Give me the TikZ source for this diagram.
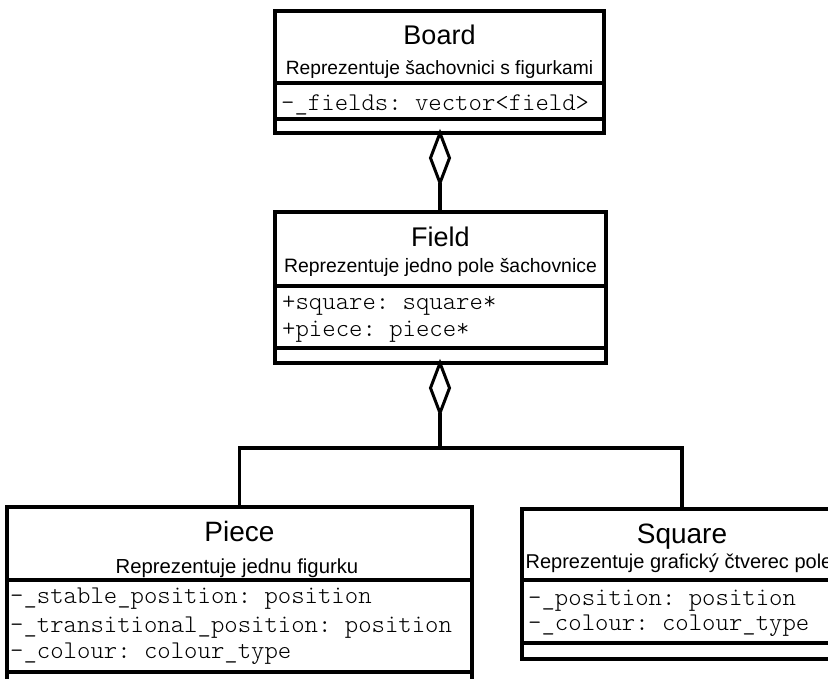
\documentclass[tikz,border=0pt]{standalone}
\usepackage{fontspec}
\setmainfont{Liberation Sans}
\setmonofont[Extension=.otf]{lmmonolt10-regular}
\usetikzlibrary{shapes.geometric}

\tikzset{
  classbox/.style={draw, rectangle, line width=3.5pt, inner sep=0pt, outer sep=0pt},
  sepline/.style={line width=3.5pt},
  link/.style={line width=3.5pt},
  agg/.style={draw, diamond, line width=3pt, fill=white, inner sep=0pt, outer sep=0pt,
              minimum width=19pt, minimum height=50pt},
  title/.style={anchor=base, inner sep=0pt},
  descr/.style={anchor=base, inner sep=0pt},
  attr/.style={anchor=base west, inner sep=0pt, font=\ttfamily\fontsize{25.5}{30}\selectfont},
}

\begin{document}
\begin{tikzpicture}[x=1pt, y=-1pt]
  \useasboundingbox (0,0) rectangle (828,679);
  \clip (0,0) rectangle (828,679);

  % class frames
  \node[classbox, minimum width=329pt, minimum height=122pt] (board) at (439.5,72) {};
  \node[classbox, minimum width=331pt, minimum height=151pt] (field) at (440.5,287.5) {};
  \node[classbox, minimum width=465pt, minimum height=183pt] (piece) at (239.5,598.5) {};
  \node[classbox, minimum width=320pt, minimum height=150pt] (square) at (682,584) {};

  % compartments
  \draw[sepline] ([yshift=-72pt]board.north west) -- ([yshift=-72pt]board.north east);
  \draw[sepline] ([yshift=-108pt]board.north west) -- ([yshift=-108pt]board.north east);
  \draw[sepline] ([yshift=-74pt]field.north west) -- ([yshift=-74pt]field.north east);
  \draw[sepline] ([yshift=-136pt]field.north west) -- ([yshift=-136pt]field.north east);
  \draw[sepline] ([yshift=-73pt]piece.north west) -- ([yshift=-73pt]piece.north east);
  \draw[sepline] ([yshift=-165pt]piece.north west) -- ([yshift=-165pt]piece.north east);
  \draw[sepline] ([yshift=-71pt]square.north west) -- ([yshift=-71pt]square.north east);
  \draw[sepline] ([yshift=-134pt]square.north west) -- ([yshift=-134pt]square.north east);

  % Board
  \node[title, font=\fontsize{27}{32}\selectfont] (boardT) at (439.5,45) {Board};
  \node[descr, font=\fontsize{19.2}{23}\selectfont] (boardD) at (439.5,75) {Reprezentuje šachovnici s figurkami};
  \node[attr] (boardA1) at (281,111) {-\_fields: vector<field>};

  % Field
  \node[title, font=\fontsize{27}{32}\selectfont] (fieldT) at (440.5,247) {Field};
  \node[descr, font=\fontsize{19.4}{23}\selectfont] (fieldD) at (440.5,273) {Reprezentuje jedno pole šachovnice};
  \node[attr] (fieldA1) at (282,310) {+square: square*};
  \node[attr] (fieldA2) at (282,337) {+piece: piece*};

  % Piece
  \node[title, font=\fontsize{28}{33}\selectfont] (pieceT) at (239.5,541) {Piece};
  \node[descr, font=\fontsize{20.3}{24}\selectfont] (pieceD) at (237,573) {Reprezentuje jednu figurku};
  \node[attr] (pieceA1) at (10,603) {-\_stable\_position: position};
  \node[attr] (pieceA2) at (10,632) {-\_transitional\_position: position};
  \node[attr] (pieceA3) at (10,658) {-\_colour: colour\_type};

  % Square
  \node[title, font=\fontsize{28}{33}\selectfont] (squareT) at (682,543) {Square};
  \node[descr, font=\fontsize{20}{24}\selectfont] (squareD) at (679,568) {Reprezentuje grafický čtverec pole};
  \node[attr] (squareA1) at (528,605) {-\_position: position};
  \node[attr] (squareA2) at (528,630) {-\_colour: colour\_type};

  % aggregations
  \node[agg, anchor=north] (d1) at (board.south -| 440,0) {};
  \draw[link] (d1.south) -- (field.north -| d1.south);
  \node[agg, anchor=north] (d2) at (field.south -| 440,0) {};
  \coordinate (junc) at (440,448);
  \draw[link] (d2.south) -- (junc);
  \draw[link] (piece.north) |- (junc) -| (square.north);
\end{tikzpicture}
\end{document}
